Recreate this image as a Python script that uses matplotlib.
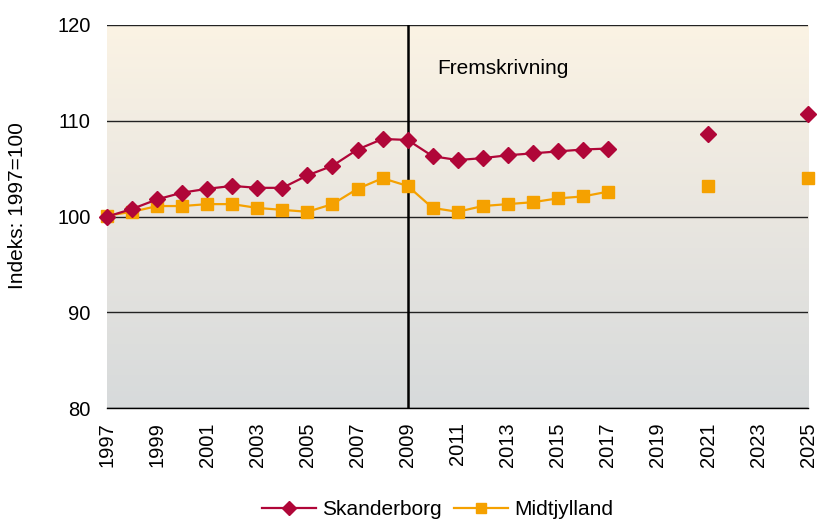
import numpy as np
import matplotlib.pyplot as plt
from matplotlib.colors import LinearSegmentedColormap

plt.rcParams['font.family'] = ['Liberation Sans', 'DejaVu Sans']

# data
years = list(range(1997, 2018))
skanderborg = [100.0, 100.8, 101.8, 102.5, 102.9, 103.2, 103.0, 103.0, 104.3, 105.3,
               107.0, 108.1, 108.0, 106.3, 105.9, 106.1, 106.4, 106.6, 106.8, 107.0, 107.1]
midtjylland = [100.1, 100.5, 101.1, 101.1, 101.3, 101.3, 100.9, 100.7, 100.5, 101.3,
               102.9, 104.0, 103.2, 100.9, 100.5, 101.1, 101.3, 101.5, 101.9, 102.1, 102.6]
proj_years = [2021, 2025]
skanderborg_proj = [108.6, 110.7]
midtjylland_proj = [103.2, 104.0]

xticks = list(range(1997, 2026, 2))
yticks = [80, 90, 100, 110, 120]

red = '#B00638'
orange = '#F5A100'

fig = plt.figure(figsize=(8.18, 5.2), dpi=100)
ax = fig.add_axes([0.131, 0.215, 0.857, 0.737])

# background gradient, cream on top to grey at the bottom
cmap = LinearSegmentedColormap.from_list('bg', ['#D7DADB', '#E9E6E0', '#FBF3E4'])
grad = np.linspace(0, 1, 256).reshape(-1, 1)
ax.imshow(grad, cmap=cmap, aspect='auto', extent=[0, 1, 0, 1],
          transform=ax.transAxes, origin='lower', zorder=0)

for y in yticks:
    ax.axhline(y, color='#222222', lw=1.0, zorder=1)
ax.axvline(2009, color='black', lw=1.8, zorder=2)

ax.plot(years, skanderborg, color=red, lw=1.6, marker='D', ms=8,
        label='Skanderborg', zorder=4, clip_on=False)
ax.plot(proj_years, skanderborg_proj, color=red, ls='none', marker='D', ms=8,
        zorder=4, clip_on=False)
ax.plot(years, midtjylland, color=orange, lw=1.6, marker='s', ms=8,
        label='Midtjylland', zorder=3, clip_on=False)
ax.plot(proj_years, midtjylland_proj, color=orange, ls='none', marker='s', ms=8,
        zorder=3, clip_on=False)

ax.text(2010.2, 115.5, 'Fremskrivning', fontsize=15, va='center', ha='left')

ax.set_xlim(1997, 2025)
ax.set_ylim(80, 120)
ax.set_xticks(xticks)
ax.set_xticklabels([str(x) for x in xticks], rotation=90, fontsize=14.5)
ax.set_yticks(yticks)
ax.set_yticklabels([str(y) for y in yticks], fontsize=14.5)
ax.tick_params(axis='x', length=0, pad=10)
ax.tick_params(axis='y', length=0, pad=12)
for s in ['top', 'left', 'right']:
    ax.spines[s].set_visible(False)
ax.spines['bottom'].set_linewidth(1.0)
fig.text(18 / 818, 0.604, 'Indeks: 1997=100', fontsize=15, rotation=90,
         ha='center', va='center')

leg = fig.legend(loc='lower center', bbox_to_anchor=(0.535, -0.035), ncol=2, frameon=False,
                 fontsize=15, handlelength=2.6, columnspacing=0.6, handletextpad=0.3)
for h in leg.legend_handles:
    h.set_markersize(7)

fig.savefig('out.png', dpi=100)
